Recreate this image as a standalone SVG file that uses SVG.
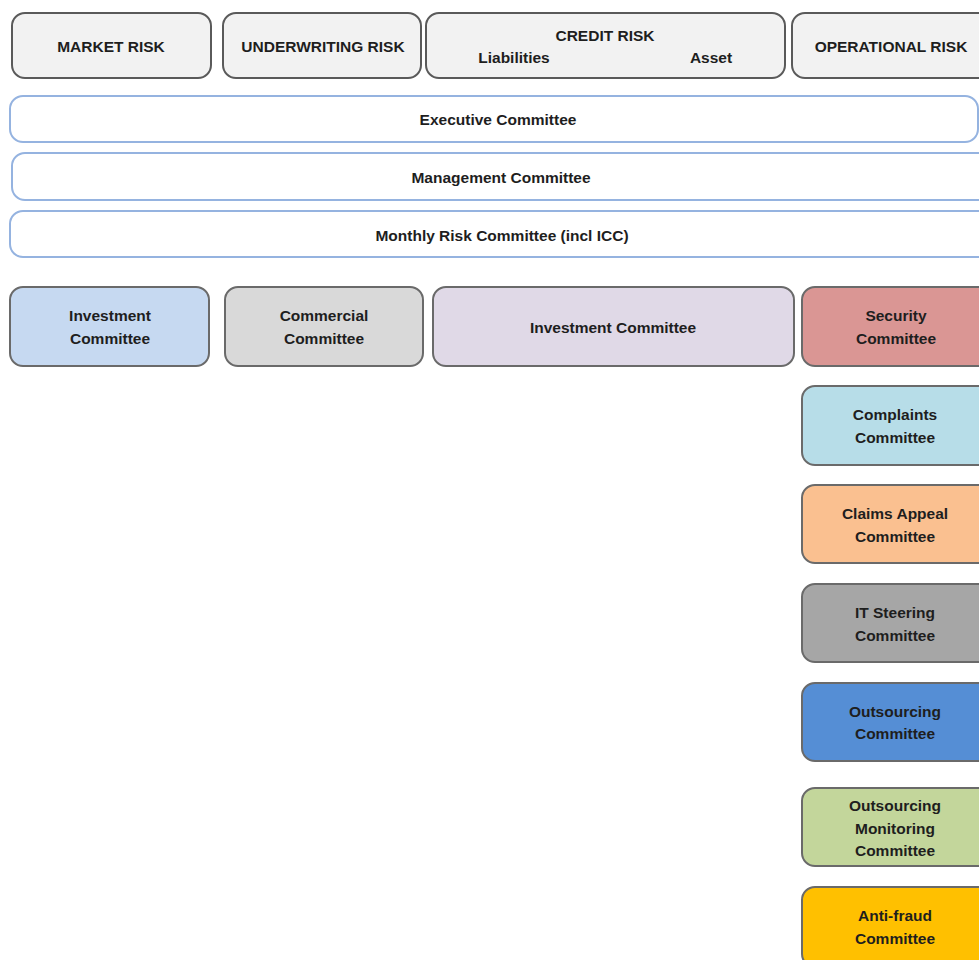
<svg xmlns="http://www.w3.org/2000/svg" width="979" height="960" viewBox="0 0 979 960">
<style>
.risk{fill:#f2f2f2;stroke:#5a5a5a;stroke-width:2}
.band{fill:#ffffff;stroke:#95b3e0;stroke-width:2}
.com{stroke:#6a6a6a;stroke-width:2}
text{font-family:"Liberation Sans",Arial,sans-serif;font-weight:bold;font-size:15.5px;fill:#1e1e1e;text-anchor:middle;dominant-baseline:central}
</style>
<rect width="979" height="960" fill="#ffffff"/>
<g id="market-risk"><rect class="risk" x="12" y="13" width="199" height="65" rx="13"/><text x="111" y="46">MARKET RISK</text></g>
<g id="underwriting-risk"><rect class="risk" x="223" y="13" width="198" height="65" rx="13"/><text x="323" y="46">UNDERWRITING RISK</text></g>
<g id="credit-risk"><rect class="risk" x="426" y="13" width="359" height="65" rx="13"/><text x="605" y="35">CREDIT RISK</text><text x="514" y="57">Liabilities</text><text x="711" y="57">Asset</text></g>
<g id="operational-risk"><rect class="risk" x="792" y="13" width="200" height="65" rx="13"/><text x="891" y="46">OPERATIONAL RISK</text></g>
<g id="executive-committee"><rect class="band" x="10" y="96" width="968" height="46" rx="13"/><text x="498" y="119">Executive Committee</text></g>
<g id="management-committee"><rect class="band" x="12" y="153" width="980" height="47" rx="13"/><text x="501" y="177">Management Committee</text></g>
<g id="monthly-risk-committee"><rect class="band" x="10" y="211" width="982" height="46" rx="13"/><text x="502" y="235">Monthly Risk Committee (incl ICC)</text></g>
<g id="investment-committee-1"><rect class="com" fill="#c6d9f1" x="10" y="287" width="199" height="79" rx="13"/><text x="110" y="315">Investment</text><text x="110" y="338">Committee</text></g>
<g id="commercial-committee"><rect class="com" fill="#d9d9d9" x="225" y="287" width="198" height="79" rx="13"/><text x="324" y="315">Commercial</text><text x="324" y="338">Committee</text></g>
<g id="investment-committee-2"><rect class="com" fill="#e0d9e7" x="433" y="287" width="361" height="79" rx="13"/><text x="613" y="327">Investment Committee</text></g>
<g id="security-committee"><rect class="com" fill="#da9694" x="802" y="287" width="190" height="79" rx="13"/><text x="896" y="315">Security</text><text x="896" y="338">Committee</text></g>
<g id="complaints-committee"><rect class="com" fill="#b7dde8" x="802" y="386" width="190" height="79" rx="13"/><text x="895" y="414">Complaints</text><text x="895" y="437">Committee</text></g>
<g id="claims-appeal-committee"><rect class="com" fill="#fac090" x="802" y="485" width="190" height="78" rx="13"/><text x="895" y="513">Claims Appeal</text><text x="895" y="536">Committee</text></g>
<g id="it-steering-committee"><rect class="com" fill="#a6a6a6" x="802" y="584" width="190" height="78" rx="13"/><text x="895" y="612">IT Steering</text><text x="895" y="635">Committee</text></g>
<g id="outsourcing-committee"><rect class="com" fill="#558ed5" x="802" y="683" width="190" height="78" rx="13"/><text x="895" y="711">Outsourcing</text><text x="895" y="733">Committee</text></g>
<g id="outsourcing-monitoring-committee"><rect class="com" fill="#c3d69b" x="802" y="788" width="190" height="78" rx="13"/><text x="895" y="805">Outsourcing</text><text x="895" y="828">Monitoring</text><text x="895" y="850">Committee</text></g>
<g id="anti-fraud-committee"><rect class="com" fill="#ffc000" x="802" y="887" width="190" height="80" rx="13"/><text x="895" y="915">Anti-fraud</text><text x="895" y="938">Committee</text></g>
<g id="connectors"></g>
</svg>
